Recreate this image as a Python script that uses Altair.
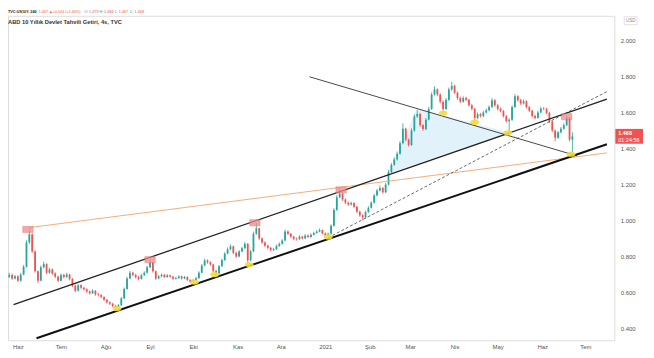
import altair as alt
import pandas as pd
import numpy as np

# ---------------- data ----------------
first_open = 0.690
closes = [
    0.700, 0.680, 0.692, 0.668, 0.702, 0.745, 0.880, 0.925, 0.830, 0.720,
    0.668, 0.742, 0.760, 0.712, 0.730, 0.708, 0.690, 0.668, 0.700, 0.688,
    0.702, 0.678, 0.640, 0.612, 0.642, 0.628, 0.620, 0.608, 0.598, 0.612,
    0.592, 0.588, 0.578, 0.562, 0.548, 0.540, 0.528, 0.520, 0.532, 0.570,
    0.622, 0.680, 0.712, 0.700, 0.688, 0.678, 0.698, 0.712, 0.742, 0.768,
    0.720, 0.680, 0.692, 0.700, 0.688, 0.698, 0.690, 0.678, 0.682, 0.692,
    0.680, 0.688, 0.672, 0.662, 0.670, 0.682, 0.712, 0.752, 0.780, 0.770,
    0.758, 0.722, 0.708, 0.748, 0.782, 0.818, 0.842, 0.858, 0.822, 0.802,
    0.830, 0.848, 0.872, 0.780, 0.830, 0.928, 0.958, 0.902, 0.880, 0.862,
    0.850, 0.838, 0.842, 0.860, 0.872, 0.890, 0.940, 0.928, 0.912, 0.900,
    0.898, 0.912, 0.902, 0.918, 0.910, 0.922, 0.932, 0.940, 0.948, 0.930,
    0.918, 0.928, 0.972, 1.060, 1.130, 1.150, 1.118, 1.100, 1.090, 1.098,
    1.078, 1.050, 1.030, 1.018, 1.048, 1.072, 1.100, 1.140, 1.168, 1.182,
    1.158, 1.200, 1.270, 1.310, 1.340, 1.372, 1.430, 1.510, 1.450, 1.420,
    1.500, 1.578, 1.592, 1.530, 1.508, 1.560, 1.620, 1.700, 1.728, 1.700,
    1.660, 1.620, 1.670, 1.728, 1.748, 1.710, 1.680, 1.660, 1.680, 1.670,
    1.640, 1.620, 1.570, 1.590, 1.580, 1.600, 1.612, 1.630, 1.668, 1.640,
    1.620, 1.608, 1.580, 1.552, 1.560, 1.630, 1.690, 1.668, 1.650, 1.662,
    1.630, 1.610, 1.580, 1.570, 1.600, 1.622, 1.620, 1.598, 1.550, 1.500,
    1.460, 1.490, 1.510, 1.530, 1.570, 1.450, 1.468,
]
highs = [
    0.712, 0.708, 0.700, 0.698, 0.710, 0.755, 0.892, 0.952, 0.930, 0.836,
    0.726, 0.752, 0.774, 0.765, 0.740, 0.736, 0.714, 0.696, 0.708, 0.706,
    0.712, 0.706, 0.682, 0.646, 0.650, 0.648, 0.634, 0.626, 0.614, 0.620,
    0.616, 0.600, 0.594, 0.582, 0.566, 0.555, 0.545, 0.534, 0.538, 0.578,
    0.630, 0.690, 0.722, 0.718, 0.706, 0.694, 0.706, 0.720, 0.750, 0.785,
    0.772, 0.724, 0.700, 0.708, 0.705, 0.704, 0.702, 0.694, 0.690, 0.698,
    0.696, 0.694, 0.692, 0.676, 0.678, 0.690, 0.720, 0.760, 0.790, 0.786,
    0.775, 0.762, 0.728, 0.756, 0.790, 0.826, 0.852, 0.868, 0.862, 0.828,
    0.838, 0.856, 0.882, 0.876, 0.838, 0.940, 0.988, 0.962, 0.908, 0.886,
    0.868, 0.856, 0.850, 0.868, 0.880, 0.898, 0.952, 0.946, 0.932, 0.916,
    0.908, 0.920, 0.916, 0.926, 0.924, 0.930, 0.940, 0.948, 0.958, 0.952,
    0.934, 0.934, 0.980, 1.070, 1.142, 1.178, 1.156, 1.124, 1.106, 1.106,
    1.102, 1.082, 1.056, 1.036, 1.056, 1.080, 1.108, 1.148, 1.176, 1.196,
    1.188, 1.210, 1.282, 1.320, 1.352, 1.384, 1.442, 1.540, 1.516, 1.456,
    1.512, 1.590, 1.612, 1.598, 1.536, 1.570, 1.632, 1.712, 1.745, 1.734,
    1.706, 1.666, 1.680, 1.738, 1.770, 1.754, 1.716, 1.688, 1.690, 1.688,
    1.676, 1.648, 1.626, 1.600, 1.598, 1.610, 1.622, 1.640, 1.680, 1.674,
    1.648, 1.628, 1.614, 1.586, 1.568, 1.640, 1.702, 1.696, 1.676, 1.672,
    1.668, 1.636, 1.616, 1.588, 1.610, 1.632, 1.630, 1.626, 1.604, 1.556,
    1.506, 1.498, 1.520, 1.540, 1.582, 1.576, 1.490,
]
lows = [
    0.682, 0.672, 0.674, 0.660, 0.662, 0.698, 0.740, 0.872, 0.822, 0.712,
    0.655, 0.664, 0.736, 0.704, 0.706, 0.700, 0.682, 0.660, 0.664, 0.680,
    0.684, 0.670, 0.632, 0.604, 0.608, 0.620, 0.612, 0.600, 0.590, 0.594,
    0.584, 0.580, 0.570, 0.555, 0.540, 0.532, 0.520, 0.508, 0.510, 0.528,
    0.566, 0.618, 0.676, 0.692, 0.680, 0.670, 0.674, 0.694, 0.708, 0.738,
    0.712, 0.672, 0.676, 0.686, 0.682, 0.684, 0.684, 0.672, 0.674, 0.678,
    0.674, 0.676, 0.666, 0.655, 0.658, 0.666, 0.678, 0.708, 0.748, 0.762,
    0.750, 0.714, 0.698, 0.704, 0.744, 0.778, 0.814, 0.836, 0.814, 0.794,
    0.798, 0.826, 0.844, 0.748, 0.776, 0.826, 0.922, 0.894, 0.872, 0.855,
    0.842, 0.830, 0.832, 0.838, 0.856, 0.868, 0.886, 0.920, 0.904, 0.892,
    0.890, 0.894, 0.896, 0.898, 0.904, 0.906, 0.918, 0.928, 0.936, 0.924,
    0.910, 0.908, 0.924, 0.968, 1.055, 1.124, 1.110, 1.092, 1.082, 1.084,
    1.070, 1.042, 1.022, 1.002, 1.012, 1.044, 1.068, 1.096, 1.136, 1.162,
    1.150, 1.154, 1.196, 1.264, 1.304, 1.334, 1.366, 1.424, 1.440, 1.410,
    1.414, 1.494, 1.570, 1.520, 1.498, 1.502, 1.556, 1.614, 1.694, 1.690,
    1.650, 1.600, 1.614, 1.664, 1.720, 1.702, 1.670, 1.652, 1.654, 1.662,
    1.632, 1.612, 1.548, 1.562, 1.572, 1.574, 1.594, 1.606, 1.624, 1.632,
    1.612, 1.600, 1.572, 1.544, 1.490, 1.554, 1.624, 1.660, 1.642, 1.644,
    1.622, 1.602, 1.572, 1.562, 1.566, 1.596, 1.612, 1.590, 1.542, 1.490,
    1.440, 1.454, 1.484, 1.504, 1.524, 1.440, 1.370,
]
first_date = "2020-05-26"
step = "2D"

# trend lines (start date, start price, end date, end price)
line_names = ["upper", "lower", "orange", "desc", "dashed"]
line_d1 = ["2020-05-29", "2020-06-14", "2020-06-08", "2020-12-21", "2021-01-03"]
line_p1 = [0.535, 0.349, 0.961, 1.798, 0.906]
line_d2 = ["2021-07-16", "2021-07-16", "2021-07-16", "2021-06-25", "2021-07-16"]
line_p2 = [1.674, 1.424, 1.376, 1.360, 1.716]

# shaded triangle (x, top, bottom)
tri_dates = ["2021-02-15T00:00", "2021-03-05T14:00", "2021-05-08T10:00"]
tri_top = [1.263, 1.623, 1.491]
tri_bottom = [1.263, 1.314, 1.491]

# highlighted touches
red_dates = ["2020-06-08", "2020-09-01", "2020-11-13", "2021-01-12", "2021-06-18"]
red_prices = [0.952, 0.784, 0.989, 1.171, 1.577]
yellow_dates = ["2020-08-09", "2020-10-02", "2020-10-16", "2020-11-09", "2021-01-03",
                "2021-03-24", "2021-04-15", "2021-05-08", "2021-06-21"]
yellow_prices = [0.513, 0.660, 0.702, 0.757, 0.910, 1.597, 1.546, 1.4875, 1.369]

price_ticks = [0.4, 0.5, 0.6, 0.7, 0.8, 0.9, 1.0, 1.1, 1.2, 1.3, 1.4, 1.5,
               1.6, 1.7, 1.8, 1.9, 2.0, 2.1]
month_ticks = [(2020, m) for m in range(6, 13)] + [(2021, m) for m in range(1, 8)]
last_price = 1.468
last_price_text = "1.468"
countdown_text = "01:24:56"
title_text = "ABD 10 Yıllık Devlet Tahvili Getiri, 4s, TVC"
hdr_name = "TVC:US10Y, 240"
hdr_texts = ["1.467", "▲", "+0.024 (+1.64%)", "O:", "1.479", "H:", "1.484",
             "L:", "1.467", "C:", "1.468"]
hdr_kind = ["val", "val", "val", "key", "val", "key", "val", "key", "val", "key", "val"]

# ---------------- build tables ----------------
dates = pd.date_range(first_date, periods=len(closes), freq=step)
opens = [first_open] + closes[:-1]
candles = pd.DataFrame({"date": dates, "open": opens, "close": closes,
                        "high": highs, "low": lows})
candles["dir"] = np.where(candles["close"] >= candles["open"], "up", "down")

lines = pd.DataFrame({"name": line_names, "d1": pd.to_datetime(line_d1),
                      "p1": line_p1, "d2": pd.to_datetime(line_d2), "p2": line_p2})
tri = pd.DataFrame({"date": pd.to_datetime(tri_dates), "top": tri_top, "bottom": tri_bottom})
reds = pd.DataFrame({"date": pd.to_datetime(red_dates), "price": red_prices})
yellows = pd.DataFrame({"date": pd.to_datetime(yellow_dates), "price": yellow_prices})
label_df = pd.DataFrame({"price": [last_price], "t1": [last_price_text], "t2": [countdown_text]})

FONT = "Liberation Sans"
xscale = alt.Scale(domain=[alt.DateTime(year=2020, month=5, date=28, hours=14),
                           alt.DateTime(year=2021, month=7, date=17, hours=18)])
yscale = alt.Scale(domain=[0.3378, 2.136], zero=False, nice=False)

month_expr = ("month(datum.value) == 0 ? '2021' : "
              "['Oca','Şub','Mar','Nis','May','Haz','Tem','Ağu','Eyl','Eki','Kas','Ara'][month(datum.value)]")
xaxis = alt.Axis(values=[alt.DateTime(year=y, month=m, date=1) for y, m in month_ticks],
                 labelExpr=month_expr, title=None, ticks=False, domain=False, grid=False,
                 labelFontSize=6, labelColor="#555555", labelFont=FONT, labelPadding=3,
                 labelAlign="center")
yaxis = alt.Axis(orient="right", values=price_ticks, format=".3f", title=None, ticks=False,
                 domain=False, grid=False, labelFontSize=6, labelColor="#555555",
                 labelFont=FONT, labelPadding=6)

base_x = alt.X("date:T", scale=xscale, axis=xaxis)
color = alt.Color("dir:N", scale=alt.Scale(domain=["up", "down"], range=["#26a69a", "#ef5350"]),
                  legend=None)

wicks = alt.Chart(candles).mark_rule(strokeWidth=0.8).encode(
    x=base_x,
    y=alt.Y("low:Q", scale=yscale, axis=yaxis),
    y2="high:Q",
    color=color,
)
bodies = alt.Chart(candles).mark_bar(size=1.8).encode(
    x=alt.X("date:T", scale=xscale),
    y=alt.Y("open:Q", scale=yscale),
    y2="close:Q",
    color=color,
)

area = alt.Chart(tri).mark_area(color="#d8eefa", opacity=0.75).encode(
    x=alt.X("date:T", scale=xscale),
    y=alt.Y("top:Q", scale=yscale),
    y2="bottom:Q",
)

def trend(name, color_, width, dash=None):
    kw = dict(color=color_, strokeWidth=width)
    if dash:
        kw["strokeDash"] = dash
    return alt.Chart(lines).transform_filter(alt.datum.name == name).mark_rule(**kw).encode(
        x=alt.X("d1:T", scale=xscale), x2="d2:T",
        y=alt.Y("p1:Q", scale=yscale), y2="p2:Q",
    )

rect_path = "M-1,-0.6L1,-0.6L1,0.6L-1,0.6Z"
ell_path = "M-1,0A1,0.6,0,1,0,1,0A1,0.6,0,1,0,-1,0Z"
red_marks = alt.Chart(reds).mark_point(shape=rect_path, size=110, filled=True,
                                       color="#f28a8a", opacity=0.75, stroke="#e06060",
                                       strokeWidth=0.5).encode(
    x=alt.X("date:T", scale=xscale), y=alt.Y("price:Q", scale=yscale))
yellow_marks = alt.Chart(yellows).mark_point(shape=ell_path, size=80, filled=True,
                                             color="#f2dc3c", opacity=0.9).encode(
    x=alt.X("date:T", scale=xscale), y=alt.Y("price:Q", scale=yscale))

# price label on the axis
lbl_box = alt.Chart(label_df).mark_rect(color="#ef5350", height=15).encode(
    y=alt.Y("price:Q", scale=yscale), x=alt.value(614), x2=alt.value(642))
lbl1 = alt.Chart(label_df).mark_text(color="white", fontSize=5.5, fontWeight="bold", font=FONT,
                                     align="left", dy=-3).encode(
    y=alt.Y("price:Q", scale=yscale), x=alt.value(617), text="t1:N")
lbl2 = alt.Chart(label_df).mark_text(color="white", fontSize=5.5, font=FONT,
                                     align="left", dy=4).encode(
    y=alt.Y("price:Q", scale=yscale), x=alt.value(617), text="t2:N")

# texts
title = alt.Chart(pd.DataFrame({"t": [title_text]})).mark_text(
    align="left", baseline="middle", fontSize=5.8, fontWeight="bold", font=FONT, color="#333333"
).encode(x=alt.value(0), y=alt.value(6), text="t:N")

# header line pieces, laid out one after the other
hdr_x = [31, 41.5, 45, 77, 82, 92.5, 97, 108, 112, 123, 128]
hdr_df = pd.DataFrame({"t": hdr_texts, "k": hdr_kind, "x": hdr_x})
hdr1 = alt.Chart(pd.DataFrame({"t": [hdr_name]})).mark_text(
    align="left", baseline="middle", fontSize=3.8, font=FONT, fontWeight="bold", color="#222222"
).encode(x=alt.value(0), y=alt.value(-3.5), text="t:N")
hdr2 = alt.Chart(hdr_df).mark_text(
    align="left", baseline="middle", fontSize=3.8, font=FONT
).encode(x=alt.X("x:Q", scale=None), y=alt.value(-3.5), text="t:N",
         color=alt.Color("k:N", scale=alt.Scale(domain=["key", "val"],
                                                range=["#333333", "#26a69a"]),
                         legend=None))

usd_box = alt.Chart(pd.DataFrame({"a": [0]})).mark_rect(fill="white", stroke="#cccccc",
                                                       strokeWidth=0.6).encode(
    x=alt.value(623), x2=alt.value(636), y=alt.value(1), y2=alt.value(9))
usd = alt.Chart(pd.DataFrame({"t": ["USD"]})).mark_text(
    align="center", baseline="middle", fontSize=4.5, font=FONT, color="#888888"
).encode(x=alt.value(629.5), y=alt.value(5), text="t:N")

chart = alt.layer(
    area, wicks, bodies,
    trend("orange", "#f2a46a", 0.9),
    trend("dashed", "#444444", 0.8, [3, 2]),
    trend("desc", "#333333", 0.9),
    trend("upper", "#222222", 1.3),
    trend("lower", "#111111", 2.0),
    red_marks, yellow_marks,
    lbl_box, lbl1, lbl2, title, hdr1, hdr2, usd_box, usd,
).properties(
    width=613, height=328,
    padding={"left": 0, "top": 6, "right": 32, "bottom": 8},
    autosize=alt.AutoSizeParams(type="none"),
).configure_view(stroke="#d0d0d0", strokeWidth=1).configure(background="white")

chart.save("out.html", embed_options={"renderer": "svg", "actions": False})
